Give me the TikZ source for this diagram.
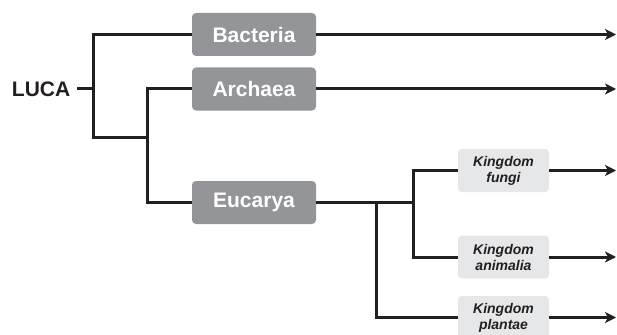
\documentclass[tikz,border=0pt]{standalone}
\usepackage{fontspec}
\setmainfont{Liberation Sans}
\usetikzlibrary{arrows.meta}
\definecolor{boxdark}{HTML}{939598}
\definecolor{boxlight}{HTML}{E6E7E8}
\definecolor{ink}{HTML}{231F20}
\tikzset{
  domain box/.style={rounded corners=4pt, fill=boxdark, text=white,
    font=\bfseries\fontsize{21}{21}\selectfont,
    minimum width=124pt, minimum height=43pt, inner sep=0pt},
  kingdom box/.style={rounded corners=4pt, fill=boxlight, text=ink,
    font=\bfseries\itshape\fontsize{14}{16}\selectfont, align=center,
    minimum width=91pt, minimum height=43pt, inner sep=0pt},
  link/.style={line width=3pt, draw=ink, line join=miter},
  arrowlink/.style={link, -{Stealth[length=11pt, width=11pt, inset=3pt]}}
}
\begin{document}
\begin{tikzpicture}[x=1pt, y=-1pt]
  \useasboundingbox (0,0) rectangle (617,334);

  % root and the three domains
  \node[font=\bfseries\fontsize{21}{21}\selectfont, text=ink, anchor=east, inner sep=0pt]
    (luca) at (70.5,89) {LUCA};
  \node[domain box] (bacteria) at (254,34.5) {Bacteria};
  \node[domain box] (archaea)  at (254,89)   {Archaea};
  \node[domain box] (eucarya)  at (254,202.5) {Eucarya};

  % eukaryote kingdoms
  \node[kingdom box] (fungi)    at (503.5,170.5) {Kingdom\\fungi};
  \node[kingdom box] (animalia) at (503.5,257)   {Kingdom\\animalia};
  \node[kingdom box] (plantae)  at (503.5,317.5) {Kingdom\\plantae};

  % branching points
  \coordinate (j1) at (93,137);
  \coordinate (j2) at (147,137);
  \coordinate (j3) at (413,202.5);
  \coordinate (j4) at (376,202.5);
  \coordinate (tip) at (616,0);

  % tree branches
  \draw[link] (luca.east) ++(6.5pt,0) -- (luca.east -| j1);
  \draw[link] (bacteria.west) -| (j1) -- (j2);
  \draw[link] (archaea.west) -| (j2) |- (eucarya.west);
  \draw[link] (eucarya.east) -- (j3);
  \draw[link] (fungi.west) -| (j3) |- (animalia.west);
  \draw[link] (j4) |- (plantae.west);

  % lineages continuing to the present
  \draw[arrowlink] (bacteria.east) -- (bacteria.east -| tip);
  \draw[arrowlink] (archaea.east)  -- (archaea.east -| tip);
  \draw[arrowlink] (fungi.east)    -- (fungi.east -| tip);
  \draw[arrowlink] (animalia.east) -- (animalia.east -| tip);
  \draw[arrowlink] (plantae.east)  -- (plantae.east -| tip);
\end{tikzpicture}
\end{document}
